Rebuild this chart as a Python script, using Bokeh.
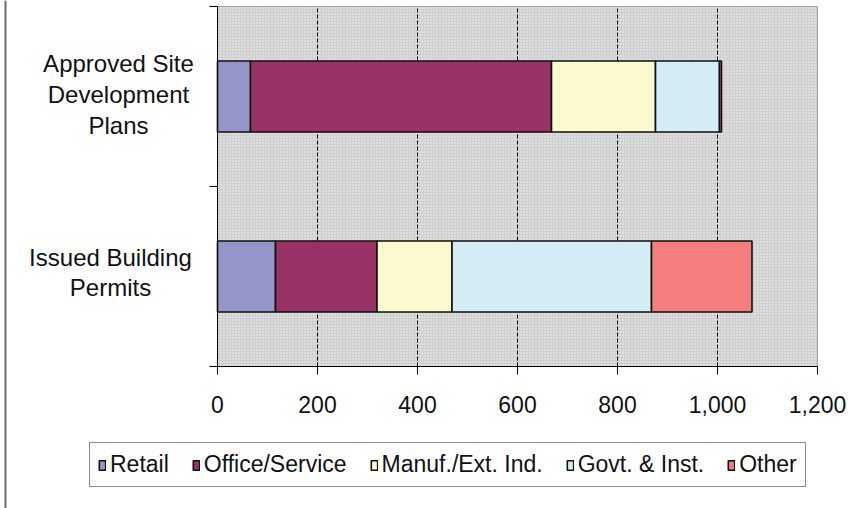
from bokeh.plotting import figure
from bokeh.models import (ColumnDataSource, Range1d, FixedTicker, NumeralTickFormatter,
                          Legend, LinearAxis, BoxAnnotation)
from bokeh.core.properties import value
from bokeh.embed import file_html
from bokeh.resources import INLINE

# Development activity by land use
categories = ["Approved Site\nDevelopment\nPlans", "Issued Building\nPermits"]
positions = [1.5, 0.5]
series = ["Retail", "Office/Service", "Manuf./Ext. Ind.", "Govt. & Inst.", "Other"]
retail = [66, 116]
office_service = [602, 203]
manuf_ext_ind = [208, 150]
govt_inst = [128, 399]
other = [4, 201]
x_ticks = [0, 200, 400, 600, 800, 1000, 1200]

colors = ["#9595C9", "#993366", "#FCF9CE", "#D4ECF3", "#F47D7D"]
FONT = "Liberation Sans"
TEXT = "#111111"

# canvas and plot-area geometry (pixels)
W, H = 849, 508
left_px, right_px, top_px, bottom_px = 217, 32, 6, 142
x_lo, x_hi = x_ticks[0], x_ticks[-1]
y_lo, y_hi = 0, len(categories)
ux = (x_hi - x_lo) / (W - left_px - right_px)      # data units per pixel
uy = (y_hi - y_lo) / (H - top_px - bottom_px)

source = ColumnDataSource(data={
    "pos": positions,
    series[0]: retail,
    series[1]: office_service,
    series[2]: manuf_ext_ind,
    series[3]: govt_inst,
    series[4]: other,
})

p = figure(width=W, height=H, output_backend="svg", toolbar_location=None,
           x_range=Range1d(x_lo - left_px * ux, x_hi + right_px * ux),
           y_range=Range1d(y_lo - bottom_px * uy, y_hi + top_px * uy),
           x_axis_location=None, y_axis_location=None, min_border=0)
p.title.visible = False
p.grid.visible = False
p.outline_line_color = None
p.background_fill_color = "white"
p.border_fill_color = "white"

# shaded, finely dotted plot area with its frame
p.add_layout(BoxAnnotation(left=x_lo, right=x_hi, bottom=y_lo, top=y_hi,
                           fill_color="#cfcfcf", fill_alpha=1,
                           hatch_pattern="dot", hatch_color="white",
                           hatch_scale=3, hatch_weight=1.2, hatch_alpha=0.8,
                           line_color="black", line_width=1, level="image"))

# dashed vertical gridlines at the inner ticks
inner = x_ticks[1:-1]
p.segment(x0=inner, y0=[y_lo] * len(inner), x1=inner, y1=[y_hi] * len(inner),
          line_color="black", line_width=1, line_dash="4 2")

renderers = p.hbar_stack(series, y="pos", height=0.395, source=source,
                         fill_color=colors, line_color="#111111", line_width=1.6)

# value axis
xaxis = LinearAxis(fixed_location=y_lo, bounds=(x_lo, x_hi),
                   ticker=FixedTicker(ticks=x_ticks),
                   formatter=NumeralTickFormatter(format="0,0"))
xaxis.major_label_text_font = FONT
xaxis.major_label_text_font_size = "23px"
xaxis.major_label_text_color = TEXT
xaxis.major_label_standoff = 21
xaxis.major_tick_out = 8
xaxis.major_tick_in = 0
xaxis.minor_tick_line_color = None
xaxis.axis_line_color = "black"
xaxis.major_tick_line_color = "black"
p.add_layout(xaxis, "below")

# category axis: tick marks between categories, names drawn as text
yaxis = LinearAxis(fixed_location=x_lo, bounds=(y_lo, y_hi),
                   ticker=FixedTicker(ticks=list(range(y_lo, y_hi + 1))))
yaxis.major_label_text_color = None
yaxis.major_tick_out = 8
yaxis.major_tick_in = 0
yaxis.minor_tick_line_color = None
yaxis.axis_line_color = "black"
yaxis.major_tick_line_color = "black"
p.add_layout(yaxis, "left")

p.text(x=[x_lo] * len(categories), y=positions, text=categories,
       x_offset=[-99, -107], y_offset=[-2, -4],
       text_align="center", text_baseline="middle",
       text_font=value(FONT), text_font_size="24px", text_color=TEXT,
       text_line_height=1.14)

legend = Legend(items=[(s, [r]) for s, r in zip(series, renderers)],
                orientation="horizontal", location=(89, H - 487))
legend.label_text_font = FONT
legend.label_text_font_size = "23px"
legend.label_text_color = TEXT
legend.glyph_width = 8
legend.glyph_height = 12
legend.label_standoff = 4
legend.spacing = 23
legend.padding = 8
legend.margin = 0
legend.border_line_color = "#222222"
legend.border_line_width = 1.5
legend.background_fill_color = "white"
legend.background_fill_alpha = 1
p.add_layout(legend, "center")

# left edge of the chart frame
p.add_layout(BoxAnnotation(left=4, right=6, left_units="screen", right_units="screen",
                           fill_color="#6a6a6a", fill_alpha=1, line_color=None))

open("out.html", "w").write(file_html(p, INLINE))
